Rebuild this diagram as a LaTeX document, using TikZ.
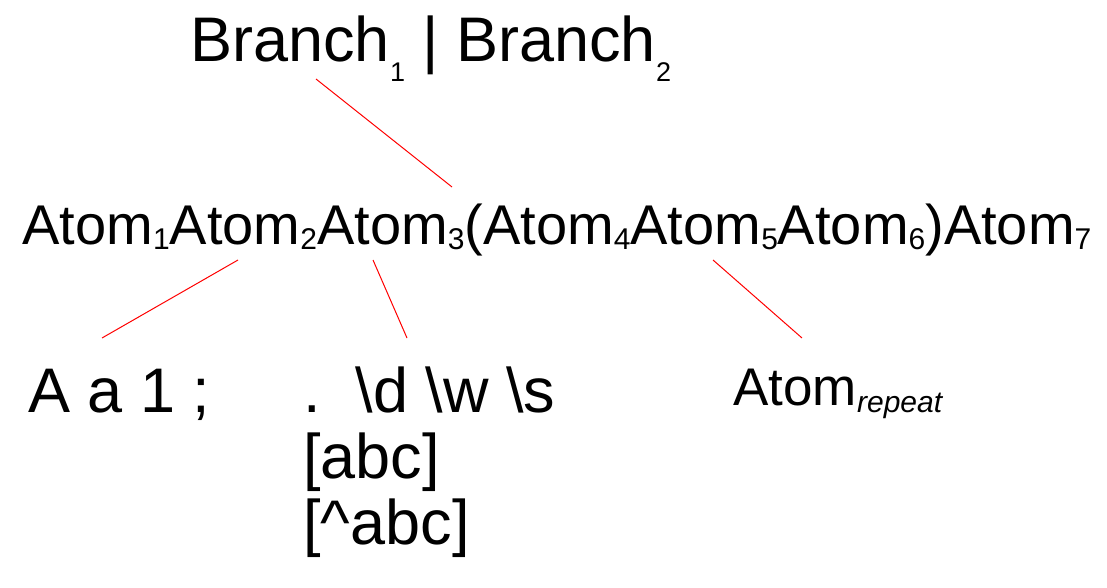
\documentclass[tikz,border=0pt]{standalone}
\usepackage{fontspec}
\setmainfont{Liberation Sans}
\usetikzlibrary{arrows, arrows.meta}
\tikzset{term/.style = {anchor = base west, inner sep = 0pt}}
\tikzset{edge/.style = {-, draw = red, line width = 0.5pt}}
\newcommand{\atomsub}[1]{\raisebox{-2.5pt}{\fontsize{15pt}{15pt}\selectfont #1}}
\newcommand{\branchsub}[1]{\raisebox{-10pt}{\fontsize{13.5pt}{13.5pt}\selectfont #1}}

\begin{document}
\begin{tikzpicture}[x = 0.5pt, y = -0.5pt]
				\useasboundingbox (0, 0) rectangle (1107, 588);

				\node[term, font = \fontsize{31.5pt}{31.5pt}\selectfont] (branch) at (190, 62)
					{Branch\branchsub{1} | Branch\branchsub{2}};
				\node[term, font = \fontsize{28pt}{28pt}\selectfont] (atoms) at (22, 244)
					{Atom\atomsub{1}Atom\atomsub{2}Atom\atomsub{3}(Atom\atomsub{4}Atom\atomsub{5}Atom\atomsub{6})Atom\atomsub{7}};
				\node[term, font = \fontsize{31.5pt}{31.5pt}\selectfont] (chars) at (28, 412) {A a 1 ;};
				\node[term, font = \fontsize{31.5pt}{31.5pt}\selectfont] (cls1) at (303, 412)
					{.~~\textbackslash d \textbackslash w \textbackslash s};
				\node[term, font = \fontsize{31.5pt}{31.5pt}\selectfont] (cls2) at (303, 478) {[abc]};
				\node[term, font = \fontsize{31.5pt}{31.5pt}\selectfont] (cls3) at (303, 544) {[\^{}abc]};
				\node[term, font = \fontsize{26.5pt}{26.5pt}\selectfont] (rep) at (733, 405)
					{Atom\raisebox{-3.5pt}{\fontsize{15pt}{15pt}\selectfont\itshape repeat}};

				\coordinate (b1) at (316, 79);
				\coordinate (a3) at (452, 187);
				\coordinate (a2) at (238, 260);
				\coordinate (c1) at (102, 338);
				\coordinate (a3b) at (373, 260);
				\coordinate (c2) at (407, 338);
				\coordinate (a5) at (713, 260);
				\coordinate (c3) at (802, 338);

				\draw[edge] (b1) -- (a3);
				\draw[edge] (a2) -- (c1);
				\draw[edge] (a3b) -- (c2);
				\draw[edge] (a5) -- (c3);
			\end{tikzpicture}
\end{document}
